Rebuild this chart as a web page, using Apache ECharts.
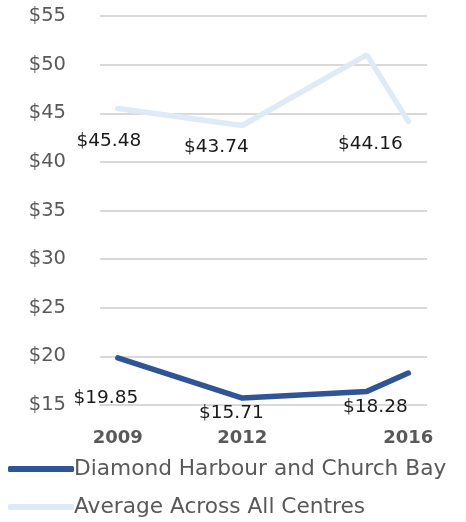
<!DOCTYPE html>
<html>
<head>
<meta charset="utf-8">
<script src="https://cdn.jsdelivr.net/npm/echarts@6/dist/echarts.min.js"></script>
<style>
  html, body { margin: 0; padding: 0; background: #fff; }
  #chart { width: 466px; height: 522px; }
</style>
</head>
<body>
<div id="chart"></div>
<script>
const years = [2009, 2012, 2015, 2016];
const yearLabels = [2009, 2012, 2016];
const diamond = [19.85, 15.71, 16.4, 18.28];
const average = [45.48, 43.74, 51.0, 44.16];
// which points carry a data label, and where Excel left the label
const diamondLabelOffsets = [[-12, 40], [-11, 15], null, [-33, 34]];
const averageLabelOffsets = [[-9, 33], [-26, 22], null, [-38, 23]];

const font = 'DejaVu Sans';

function buildData (values, offsets) {
  return values.map((v, i) => {
    const item = { value: [years[i], v] };
    if (offsets[i]) {
      item.label = {
        show: true,
        position: 'inside',
        offset: offsets[i],
        formatter: '$' + v.toFixed(2),
        color: '#1a1a1a',
        fontFamily: font,
        fontSize: 18.5
      };
    }
    return item;
  });
}

const chart = echarts.init(document.getElementById('chart'));
chart.setOption({
  animation: false,
  grid: { left: 100, right: 39, top: 16, bottom: 117 },
  legend: {
    orient: 'vertical',
    left: 8,
    top: 458,
    height: 80,
    padding: 0,
    itemWidth: 66,
    itemHeight: 6,
    itemGap: 16,
    icon: 'roundRect',
    textStyle: { color: '#595959', fontFamily: font, fontSize: 21.7, padding: [0, 0, 0, -5] },
    data: ['Diamond Harbour and Church Bay', 'Average Across All Centres']
  },
  xAxis: {
    type: 'value',
    min: 2008.57,
    max: 2016.45,
    axisLine: { show: false },
    axisTick: { show: false },
    splitLine: { show: false },
    axisLabel: {
      customValues: yearLabels,
      formatter: v => String(v),
      margin: 24,
      color: '#595959',
      fontWeight: 'bold',
      fontFamily: font,
      fontSize: 18
    }
  },
  yAxis: {
    type: 'value',
    min: 15,
    max: 55,
    interval: 5,
    axisLine: { show: false },
    axisTick: { show: false },
    splitLine: { lineStyle: { color: '#d9d9d9', width: 2 } },
    axisLabel: {
      formatter: '${value}',
      margin: 34,
      color: '#595959',
      fontFamily: font,
      fontSize: 19.5
    }
  },
  series: [
    {
      name: 'Diamond Harbour and Church Bay',
      type: 'line',
      symbol: 'circle',
      symbolSize: 1,
      lineStyle: { color: '#2f5597', width: 5.5, cap: 'round' },
      itemStyle: { color: '#2f5597' },
      data: buildData(diamond, diamondLabelOffsets)
    },
    {
      name: 'Average Across All Centres',
      type: 'line',
      symbol: 'circle',
      symbolSize: 1,
      lineStyle: { color: '#deebf7', width: 5.5, cap: 'round' },
      itemStyle: { color: '#deebf7' },
      data: buildData(average, averageLabelOffsets)
    }
  ]
});
</script>
</body>
</html>
